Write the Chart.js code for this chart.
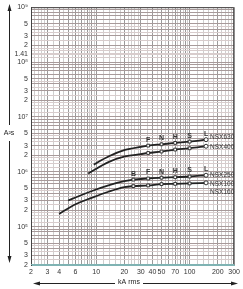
<!DOCTYPE html>
<html><head><meta charset="utf-8">
<script src="https://cdn.jsdelivr.net/npm/chart.js@4"></script>
<style>html,body{margin:0;padding:0;background:#fff}canvas{display:block}</style>
</head><body>
<canvas id="c" width="243" height="289"></canvas>
<script>
// axis labels
const xTickVals = [2, 3, 4, 6, 10, 20, 30, 40, 50, 70, 100, 150, 200, 300];
const xTickText = ['2', '3', '4', '6', '10', '20', '30', '40', '50', '70', '100', '150', '200', '300'];
const yTickVals = [1e9, 5e8, 3e8, 2e8, 1.41e8, 1e8, 5e7, 3e7, 2e7, 1e7, 5e6, 3e6, 2e6, 1e6, 5e5, 3e5, 2e5, 1e5, 5e4, 3e4, 2e4];
const yTickText = ['10⁹', '5', '3', '2', '1.41', '10⁸', '5', '3', '2', '10⁷', '5', '3', '2', '10⁶', '5', '3', '2', '10⁵', '5', '3', '2'];

// breaking capacity letters (kA)
const ratingLetters = ['B', 'F', 'N', 'H', 'S', 'L'];
const ratingKA = [25, 36, 50, 70, 100, 150];

// curves: kA rms -> A²s
const nsx630X = [9.4, 13.5, 20.3, 30, 36, 50, 70, 100, 150];
const nsx630Y = [1.35e6, 1.9e6, 2.5e6, 2.85e6, 3.0e6, 3.17e6, 3.36e6, 3.55e6, 3.85e6];
const nsx400X = [8.2, 13.5, 20.3, 30, 36, 50, 70, 100, 150];
const nsx400Y = [9.3e5, 1.5e6, 1.9e6, 2.1e6, 2.2e6, 2.34e6, 2.54e6, 2.68e6, 2.92e6];
const nsx250X = [5, 9, 13.5, 20, 25, 36, 50, 70, 100, 150];
const nsx250Y = [3.0e5, 4.46e5, 5.64e5, 6.74e5, 7.2e5, 7.54e5, 7.8e5, 7.96e5, 8.2e5, 8.65e5];
const nsx100X = [4, 6, 9, 13.5, 20, 25, 36, 50, 70, 100, 150];
const nsx100Y = [1.71e5, 2.56e5, 3.37e5, 4.33e5, 5.26e5, 5.48e5, 5.64e5, 5.96e5, 6.03e5, 6.13e5, 6.28e5];

const FONT = 'Liberation Sans, Arial, sans-serif';

function gridValues(min, max, mants) {
  const out = [];
  for (let e = -1; e <= 10; e++) {
    for (const m of mants) {
      const v = Number((m * Math.pow(10, e)).toPrecision(6));
      if (v >= min * 0.9999 && v <= max * 1.0001) out.push(v);
    }
  }
  return out;
}
const xGrid = gridValues(2, 300, [1, 1.2, 1.4, 1.6, 1.8, 2, 2.2, 2.4, 2.6, 2.8, 3, 3.5, 4, 4.5, 5, 5.5, 6, 6.5, 7, 7.5, 8, 8.5, 9, 9.5]);
const yGrid = gridValues(2e4, 1e9, [1, 1.2, 1.4, 1.6, 1.8, 2, 2.5, 3, 3.5, 4, 4.5, 5, 6, 7, 8, 9]);

function isMajor(v) {
  const m = v / Math.pow(10, Math.floor(Math.log10(v) + 1e-9));
  return Math.abs(m - Math.round(m)) < 1e-6;
}
function findLabel(vals, text, v) {
  const i = vals.findIndex(t => Math.abs(t - v) / t < 1e-6);
  return i >= 0 ? text[i] : '';
}
function pts(xs, ys) { return xs.map((x, i) => ({ x: x, y: ys[i] })); }

function curve(xs, ys, marks) {
  return {
    data: pts(xs, ys),
    borderColor: '#222',
    borderWidth: 1.8,
    cubicInterpolationMode: 'monotone',
    pointRadius: ctx => marks.includes(ctx.raw.x) ? 2 : 0,
    pointStyle: ctx => ctx.raw.x === 150 ? 'circle' : 'rect',
    pointBackgroundColor: '#fff',
    pointBorderColor: '#333',
    pointBorderWidth: 1
  };
}

const notes = {
  id: 'notes',
  beforeDatasetsDraw(chart) {
    const c = chart.ctx, a = chart.chartArea;
    c.save();
    c.lineWidth = 1;
    c.strokeStyle = '#444';
    c.beginPath();
    c.moveTo(a.left + 0.5, a.bottom); c.lineTo(a.left + 0.5, a.top + 0.5);
    c.lineTo(a.right - 0.5, a.top + 0.5); c.lineTo(a.right - 0.5, a.bottom);
    c.stroke();
    c.strokeStyle = '#7fb3b3';
    c.beginPath(); c.moveTo(a.left, a.bottom - 0.5); c.lineTo(a.right, a.bottom - 0.5); c.stroke();
    c.restore();
  },
  afterDatasetsDraw(chart) {
    const c = chart.ctx, xs = chart.scales.x, ys = chart.scales.y;
    c.save();
    c.fillStyle = '#333';
    c.font = 'bold 7px ' + FONT;
    c.textAlign = 'center';
    c.textBaseline = 'bottom';
    // letters above the upper curve of each pair
    ratingKA.forEach((k, i) => {
      const px = xs.getPixelForValue(k);
      const j250 = nsx250X.indexOf(k);
      if (j250 >= 0) c.fillText(ratingLetters[i], px, ys.getPixelForValue(nsx250Y[j250]) - 2.5);
      const j630 = nsx630X.indexOf(k);
      if (j630 >= 0) c.fillText(ratingLetters[i], px, ys.getPixelForValue(nsx630Y[j630]) - 2.5);
    });
    // series names
    c.font = '6.5px ' + FONT;
    c.textAlign = 'left';
    c.textBaseline = 'middle';
    const lx = xs.getPixelForValue(150) + 4;
    c.fillText('NSX630', lx, ys.getPixelForValue(nsx630Y[nsx630Y.length - 1]) - 2);
    c.fillText('NSX400', lx, ys.getPixelForValue(nsx400Y[nsx400Y.length - 1]) + 1);
    c.fillText('NSX250', lx, ys.getPixelForValue(nsx250Y[nsx250Y.length - 1]));
    const y100 = ys.getPixelForValue(nsx100Y[nsx100Y.length - 1]) + 1;
    c.fillText('NSX100', lx, y100);
    c.fillText('NSX160', lx, y100 + 8);

    // axis titles with arrows
    c.strokeStyle = '#222';
    c.fillStyle = '#222';
    c.lineWidth = 1;
    c.font = '7px ' + FONT;
    c.textAlign = 'center';
    c.fillText('A²s', 9, 133);
    c.beginPath();
    c.moveTo(9.5, 9); c.lineTo(9.5, 125);
    c.moveTo(9.5, 141); c.lineTo(9.5, 258);
    c.stroke();
    c.beginPath(); c.moveTo(9.5, 4); c.lineTo(7.5, 11); c.lineTo(11.5, 11); c.closePath(); c.fill();
    c.beginPath(); c.moveTo(9.5, 263); c.lineTo(7.5, 256); c.lineTo(11.5, 256); c.closePath(); c.fill();

    c.fillText('kA rms', 129, 282);
    c.beginPath();
    c.moveTo(38, 283.5); c.lineTo(115, 283.5);
    c.moveTo(143, 283.5); c.lineTo(232, 283.5);
    c.stroke();
    c.beginPath(); c.moveTo(33, 283.5); c.lineTo(40, 281.5); c.lineTo(40, 285.5); c.closePath(); c.fill();
    c.beginPath(); c.moveTo(238, 283.5); c.lineTo(231, 281.5); c.lineTo(231, 285.5); c.closePath(); c.fill();
    c.restore();
  }
};

new Chart(document.getElementById('c'), {
  type: 'line',
  data: {
    datasets: [
      curve(nsx630X, nsx630Y, ratingKA),
      curve(nsx400X, nsx400Y, ratingKA),
      curve(nsx250X, nsx250Y, ratingKA),
      curve(nsx100X, nsx100Y, ratingKA)
    ]
  },
  options: {
    responsive: false,
    devicePixelRatio: 1,
    animation: false,
    layout: { padding: { top: 4, right: 5, left: 0, bottom: 0 } },
    plugins: { legend: { display: false }, tooltip: { enabled: false } },
    scales: {
      x: {
        type: 'logarithmic',
        min: 2, max: 300,
        afterBuildTicks: s => { s.ticks = xGrid.map(v => ({ value: v })); },
        afterFit: s => { s.height = 24; },
        grid: {
          drawTicks: false,
          color: ctx => isMajor(ctx.tick.value) ? '#9a9a9a' : '#cfcfcf',
          lineWidth: 1
        },
        border: { color: '#7fb3b3' },
        ticks: {
          autoSkip: false, maxRotation: 0, padding: 3,
          color: '#333', font: { size: 7, family: FONT },
          callback: v => findLabel(xTickVals, xTickText, v)
        }
      },
      y: {
        type: 'logarithmic',
        min: 2e4, max: 1e9,
        afterBuildTicks: s => { s.ticks = yGrid.concat([1.41e8]).map(v => ({ value: v })); },
        afterFit: s => { s.width = 31; },
        grid: {
          drawTicks: false,
          color: ctx => isMajor(ctx.tick.value) ? '#a89a9a' : '#d8cccc',
          lineWidth: 1
        },
        border: { color: '#444' },
        ticks: {
          autoSkip: false, padding: 3,
          color: '#333', font: { size: 7, family: FONT },
          callback: v => findLabel(yTickVals, yTickText, v)
        }
      }
    }
  },
  plugins: [notes]
});
</script>
</body></html>
